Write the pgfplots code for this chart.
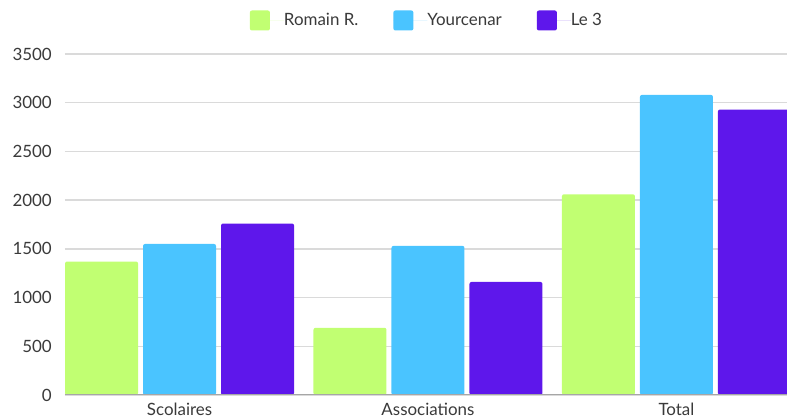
\documentclass[border=0pt]{standalone}
\usepackage{fontspec}
\setmainfont{Lato}
\usepackage{pgfplots}
\pgfplotsset{compat=1.18}
\definecolor{cgreen}{HTML}{C1FF72}
\definecolor{cblue}{HTML}{4AC4FF}
\definecolor{cpurple}{HTML}{5E17EB}
\definecolor{ctext}{HTML}{3A3A3A}
\definecolor{cgrid}{HTML}{DADADA}
\begin{document}
\begin{tikzpicture}
\begin{axis}[
  scale only axis, width=722bp, height=341bp,
  ybar=5bp, bar width=73bp,
  xmin=-0.461, xmax=2.445, ymin=0, ymax=3500,
  xtick={0,1,2}, xticklabels={Scolaires,Associations,Total},
  ytick={0,500,...,3500},
  axis line style={draw=none},
  major tick length=0pt,
  ymajorgrids, grid style={cgrid, line width=1.3bp},
  tick label style={font=\fontsize{17}{19}\selectfont, text=ctext, inner sep=0pt},
  yticklabel style={anchor=east, xshift=-13bp},
  xticklabel style={anchor=north, yshift=-8bp},
  /pgf/number format/1000 sep={},
  /pgf/number format/assume math mode=true,
  legend columns=3,
  legend style={draw=none, inner sep=0pt, at={(0.5,1)}, anchor=center, yshift=33.5bp,
    font=\fontsize{17}{19}\selectfont, text=ctext, nodes={inner sep=0pt},
    /tikz/every even column/.append style={column sep=35bp}},
  legend image code/.code={\fill[#1] (0bp,-10bp) rectangle (20bp,10bp); \path (0bp,0bp) -- (34bp,0bp);},
  every axis plot/.append style={draw=none, rounded corners=2bp},
  clip=true,
]
\addplot[fill=cgreen] coordinates {(0,1370) (1,690) (2,2060)};
\addplot[fill=cblue] coordinates {(0,1550) (1,1530) (2,3080)};
\addplot[fill=cpurple] coordinates {(0,1760) (1,1160) (2,2930)};
\draw[color=black!35, line width=2bp] (rel axis cs:0,0) -- (rel axis cs:1,0);
\legend{Romain R.,Yourcenar,Le 3}
\end{axis}
\pgfresetboundingbox
\path (current axis.south west) ++(-65bp,-23bp);
\path (current axis.north east) ++(0bp,54bp);
\end{tikzpicture}
\end{document}
